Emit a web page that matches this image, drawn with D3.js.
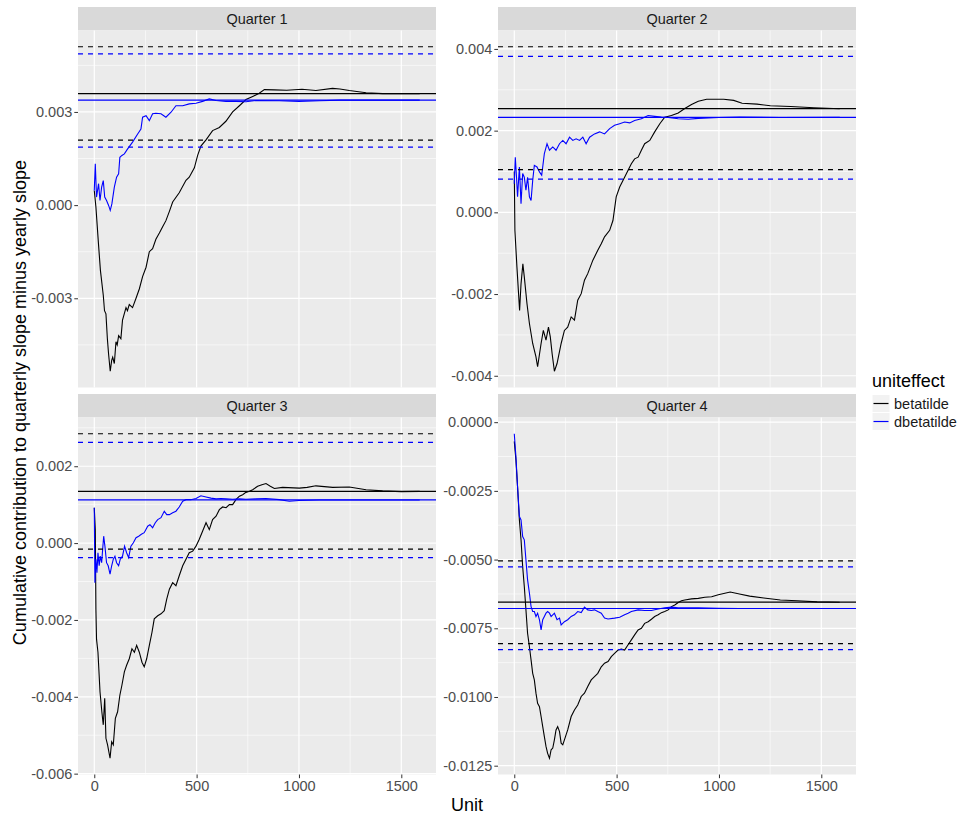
<!DOCTYPE html>
<html>
<head>
<meta charset="utf-8">
<script src="https://d3js.org/d3.v7.min.js"></script>
<style>
  body { margin: 0; background: #fff; }
  svg text { font-family: 'Liberation Sans', Arial, sans-serif; }
</style>
</head>
<body>
<svg id="quarterVis"></svg>
<script>
const quarters = ['Quarter 1', 'Quarter 2', 'Quarter 3', 'Quarter 4']
const seriesNames = ['betatilde', 'dbetatilde']

// [unit, cumulative contribution]
const q1Beta = [[0,0.00047],[8,-0.00006],[20,-0.0012],[30,-0.0021],[44,-0.0029],[50,-0.0034],[57,-0.0035],[64,-0.0043],[70,-0.0048],[78,-0.00535],[85,-0.0050],[90,-0.0049],[98,-0.0051],[106,-0.0044],[112,-0.0045],[119,-0.0042],[130,-0.0043],[138,-0.0037],[155,-0.0033],[162,-0.0034],[171,-0.0032],[187,-0.0033],[204,-0.0030],[220,-0.0027],[236,-0.0023],[253,-0.0020],[269,-0.0015],[285,-0.0014],[301,-0.0011],[318,-0.0009],[334,-0.0007],[350,-0.0005],[367,-0.0002],[383,0.0001],[415,0.0004],[448,0.0008],[464,0.0009],[489,0.0012],[505,0.0016],[521,0.0019],[546,0.0021],[578,0.0024],[611,0.0025],[643,0.0027],[676,0.0030],[709,0.0032],[741,0.0034],[774,0.0035],[806,0.0036],[831,0.00372],[880,0.00371],[940,0.00370],[1015,0.00373],[1083,0.00369],[1164,0.00376],[1200,0.00374],[1246,0.00369],[1328,0.00362],[1409,0.00359],[1500,0.00359],[1590,0.00359]]
const q1Dbeta = [[0,0.00047],[5,0.00133],[11,0.00026],[21,0.00069],[28,0.00015],[36,0.00058],[44,0.00079],[51,0.00026],[60,0.00015],[70,-0.00001],[78,-0.00017],[86,0.00004],[98,0.00058],[109,0.0009],[119,0.00101],[125,0.00154],[135,0.0016],[147,0.00165],[163,0.00181],[187,0.00203],[212,0.00229],[228,0.00245],[236,0.00283],[253,0.00288],[269,0.00272],[285,0.00294],[301,0.00296],[326,0.00294],[350,0.00283],[375,0.00299],[399,0.0032],[432,0.0032],[464,0.00326],[497,0.00328],[529,0.00334],[562,0.00342],[595,0.00337],[643,0.00334],[692,0.00334],[741,0.00333],[790,0.00337],[904,0.00336],[1000,0.00334],[1100,0.00336],[1200,0.00338],[1400,0.00338],[1590,0.00338]]

const q2Beta = [[0,0.0010],[3,-0.00044],[13,-0.00134],[20,-0.00191],[26,-0.0024],[33,-0.00175],[42,-0.00126],[49,-0.00158],[62,-0.00223],[74,-0.00272],[90,-0.00321],[106,-0.00354],[114,-0.00378],[131,-0.00321],[142,-0.00289],[155,-0.00313],[167,-0.00281],[176,-0.00305],[185,-0.00346],[196,-0.00389],[209,-0.0037],[229,-0.00321],[245,-0.00289],[261,-0.00281],[278,-0.00256],[294,-0.00264],[310,-0.00215],[327,-0.00199],[343,-0.00166],[359,-0.0015],[384,-0.00117],[408,-0.00093],[425,-0.00077],[441,-0.0006],[466,-0.00044],[482,-0.0002],[498,0.00038],[515,0.00062],[539,0.00086],[556,0.00103],[572,0.00119],[588,0.00131],[605,0.00135],[621,0.00152],[637,0.00168],[662,0.00176],[686,0.00197],[711,0.00217],[735,0.00233],[768,0.00237],[801,0.00243],[833,0.00254],[866,0.00264],[899,0.00272],[940,0.00277],[1023,0.00277],[1072,0.00274],[1113,0.00267],[1186,0.00265],[1251,0.00261],[1350,0.00259],[1464,0.00256],[1590,0.002537]]
const q2Dbeta = [[0,0.0007],[5,0.00135],[11,0.00086],[16,0.00038],[25,0.00111],[33,0.00021],[41,0.00095],[49,0.00086],[57,0.00054],[65,0.00086],[74,0.00038],[82,0.00029],[90,0.00078],[98,0.00115],[111,0.00111],[123,0.00099],[134,0.00091],[147,0.00144],[160,0.00168],[172,0.00152],[188,0.0016],[204,0.00152],[221,0.00168],[237,0.00176],[253,0.00168],[270,0.00184],[286,0.00176],[302,0.0018],[319,0.00176],[335,0.00184],[351,0.00168],[368,0.00184],[392,0.00192],[417,0.00197],[441,0.00192],[466,0.00205],[490,0.00213],[515,0.00217],[539,0.00221],[564,0.00219],[588,0.00225],[621,0.00229],[654,0.00237],[686,0.00235],[719,0.00233],[752,0.00232],[801,0.00229],[850,0.00228],[899,0.0023],[1000,0.00232],[1100,0.00233],[1300,0.00232],[1590,0.002324]]

const q3Beta = [[0,0.00092],[5,0.00035],[8,-0.00172],[11,-0.0025],[18,-0.00284],[28,-0.00387],[37,-0.00439],[44,-0.00473],[51,-0.00404],[57,-0.00508],[65,-0.00525],[77,-0.0056],[85,-0.00517],[93,-0.00525],[103,-0.00456],[114,-0.00439],[125,-0.00396],[135,-0.0037],[147,-0.00335],[158,-0.00318],[171,-0.00301],[184,-0.00275],[196,-0.00284],[207,-0.00266],[220,-0.00284],[233,-0.0031],[244,-0.00322],[256,-0.00301],[269,-0.00266],[282,-0.00232],[293,-0.00197],[310,-0.00189],[326,-0.00184],[342,-0.00176],[354,-0.00146],[367,-0.0012],[383,-0.00103],[399,-0.00111],[415,-0.00085],[432,-0.00059],[448,-0.00042],[464,-0.00025],[481,-0.00021],[497,-0.00008],[513,0.0001],[529,0.00031],[546,0.00053],[562,0.00035],[578,0.00061],[595,0.0007],[611,0.00087],[627,0.00094],[644,0.00092],[660,0.001],[676,0.001],[692,0.00113],[709,0.00122],[725,0.00126],[741,0.00132],[758,0.00135],[774,0.00139],[798,0.00148],[819,0.00152],[839,0.00155],[860,0.00148],[880,0.00142],[920,0.00145],[1002,0.00143],[1040,0.00145],[1083,0.00149],[1165,0.00145],[1246,0.00146],[1328,0.00139],[1409,0.00136],[1500,0.00134],[1590,0.001345]]
const q3Dbeta = [[0,0.00092],[3,-0.00103],[8,-0.00042],[13,-0.00077],[18,-0.00025],[24,-0.00059],[29,-0.00034],[36,-0.00051],[41,-0.00016],[46,0.00018],[52,-0.00008],[60,-0.00051],[68,-0.00059],[77,-0.00081],[85,-0.00059],[93,-0.00042],[101,-0.00034],[109,-0.00051],[119,-0.00059],[127,-0.00042],[138,-0.00034],[148,-0.00008],[158,-0.00025],[168,-0.00038],[179,-0.00008],[191,0.00001],[204,0.00014],[217,0.00018],[230,0.00023],[244,0.00027],[261,0.00044],[272,0.00048],[285,0.0004],[298,0.00053],[310,0.00061],[326,0.00066],[342,0.00083],[354,0.00074],[367,0.00074],[383,0.00079],[399,0.00083],[415,0.00094],[432,0.00109],[448,0.00113],[472,0.00113],[497,0.00116],[521,0.00123],[546,0.0012],[570,0.00117],[595,0.00115],[619,0.00116],[644,0.00115],[676,0.00114],[709,0.00115],[741,0.00114],[790,0.00115],[839,0.00116],[904,0.00113],[953,0.00109],[1000,0.00111],[1100,0.00112],[1300,0.00112],[1590,0.001123]]

const q4Beta = [[0,-0.0007],[8,-0.00137],[16,-0.00234],[25,-0.00356],[33,-0.00428],[41,-0.00525],[49,-0.00598],[57,-0.00683],[65,-0.00768],[74,-0.00817],[82,-0.00865],[90,-0.00914],[98,-0.00938],[106,-0.00986],[114,-0.01023],[123,-0.01035],[131,-0.01071],[139,-0.01108],[147,-0.01144],[155,-0.0118],[163,-0.01205],[172,-0.01223],[180,-0.01192],[188,-0.01186],[196,-0.01156],[204,-0.0112],[212,-0.01108],[221,-0.01126],[229,-0.01168],[237,-0.01174],[245,-0.01156],[253,-0.01138],[261,-0.0112],[278,-0.01071],[294,-0.01047],[310,-0.01029],[327,-0.00998],[343,-0.00986],[359,-0.00962],[376,-0.00938],[392,-0.00926],[408,-0.00914],[425,-0.0089],[441,-0.00877],[458,-0.00871],[474,-0.00853],[490,-0.00841],[507,-0.00829],[523,-0.00826],[539,-0.00829],[556,-0.0081],[572,-0.00792],[588,-0.00774],[605,-0.00756],[621,-0.0075],[637,-0.00732],[654,-0.00726],[670,-0.00717],[686,-0.00707],[703,-0.00701],[719,-0.00693],[735,-0.00689],[752,-0.00683],[768,-0.00671],[784,-0.00665],[801,-0.00656],[817,-0.0065],[833,-0.00647],[866,-0.00643],[899,-0.00641],[931,-0.00637],[964,-0.00635],[997,-0.00628],[1055,-0.00618],[1100,-0.00625],[1150,-0.00633],[1219,-0.0064],[1300,-0.00647],[1382,-0.0065],[1480,-0.00654],[1590,-0.00655]]
const q4Dbeta = [[0,-0.00042],[8,-0.00125],[16,-0.00234],[25,-0.00343],[33,-0.00356],[41,-0.00416],[49,-0.00428],[57,-0.00501],[65,-0.00574],[74,-0.00622],[82,-0.00671],[90,-0.00689],[98,-0.00689],[106,-0.00707],[114,-0.00695],[123,-0.00719],[131,-0.00756],[139,-0.00719],[147,-0.00707],[155,-0.00695],[163,-0.00689],[172,-0.00695],[180,-0.00707],[188,-0.00701],[196,-0.00695],[209,-0.00719],[221,-0.00713],[229,-0.00738],[245,-0.00726],[261,-0.00719],[278,-0.00707],[294,-0.00701],[310,-0.00689],[327,-0.00693],[343,-0.00673],[359,-0.00683],[376,-0.00685],[392,-0.00683],[408,-0.00689],[425,-0.00695],[441,-0.00713],[458,-0.00716],[490,-0.00713],[515,-0.0071],[539,-0.00701],[556,-0.00695],[572,-0.00689],[605,-0.00683],[637,-0.00685],[670,-0.00685],[703,-0.0068],[735,-0.00675],[768,-0.00673],[801,-0.00675],[850,-0.00675],[899,-0.00675],[997,-0.00677],[1100,-0.00678],[1300,-0.00678],[1590,-0.00678]]

// reference lines per quarter
const betaMean = [0.00359, 0.002537, 0.001345, -0.00655]
const betaLower = [0.00209, 0.001045, -0.000155, -0.008057]
const betaUpper = [0.0051, 0.004054, 0.002846, -0.005047]
const dbetaMean = [0.00338, 0.002324, 0.001123, -0.00678]
const dbetaLower = [0.00187, 0.000815, -0.000378, -0.008275]
const dbetaUpper = [0.00487, 0.003817, 0.002623, -0.005266]

const xTicks = [0, 500, 1000, 1500]
const yTicks = [
  [-0.003, 0, 0.003],
  [-0.004, -0.002, 0, 0.002, 0.004],
  [-0.006, -0.004, -0.002, 0, 0.002],
  [-0.0125, -0.01, -0.0075, -0.005, -0.0025, 0]
]
const yTickDigits = [3, 3, 3, 4]

function quarterVis () {
  const width = 968
  const height = 818
  const panelW = 358
  const panelH = 357
  const stripH = 23.5
  const colX = [78, 498]
  const rowY = [7, 394]
  const colors = { betatilde: 'black', dbetatilde: 'blue' }

  const svg = d3.select('#quarterVis')
    .attr('width', width)
    .attr('height', height)

  svg.append('rect').attr('width', width).attr('height', height).attr('fill', '#fff')

  const locale = d3.formatLocale({ decimal: '.', thousands: ',', grouping: [3], currency: ['', ''], minus: '-' })

  const betaSeries = [q1Beta, q2Beta, q3Beta, q4Beta]
  const dbetaSeries = [q1Dbeta, q2Dbeta, q3Dbeta, q4Dbeta]

  const allUnits = betaSeries.concat(dbetaSeries).flat().map(d => d[0])
  const [xMin, xMax] = d3.extent(allUnits)
  const xPad = (xMax - xMin) * 0.05
  const x = d3.scaleLinear().domain([xMin - xPad, xMax + xPad]).range([0, panelW])

  function minorBreaks (major, domain) {
    const step = major[1] - major[0]
    const out = []
    for (let i = -1; i < major.length; i++) {
      const v = major[0] + (i + 0.5) * step
      if (v >= Math.min(...domain) && v <= Math.max(...domain)) out.push(v)
    }
    return out
  }

  quarters.forEach((name, i) => {
    const col = i % 2
    const row = Math.floor(i / 2)
    const left = colX[col]
    const top = rowY[row] + stripH

    const hlines = [
      { value: betaUpper[i], color: colors.betatilde, dash: '5,5' },
      { value: betaMean[i], color: colors.betatilde, dash: null },
      { value: betaLower[i], color: colors.betatilde, dash: '5,5' },
      { value: dbetaUpper[i], color: colors.dbetatilde, dash: '5,5' },
      { value: dbetaMean[i], color: colors.dbetatilde, dash: null },
      { value: dbetaLower[i], color: colors.dbetatilde, dash: '5,5' }
    ]

    const vals = betaSeries[i].concat(dbetaSeries[i]).map(d => d[1])
      .concat(hlines.map(h => h.value))
    const [lo, hi] = d3.extent(vals)
    const pad = (hi - lo) * 0.05
    const y = d3.scaleLinear().domain([lo - pad, hi + pad]).range([panelH, 0])

    // strip
    svg.append('rect')
      .attr('x', left).attr('y', rowY[row])
      .attr('width', panelW).attr('height', stripH)
      .attr('fill', '#d9d9d9')
    svg.append('text')
      .attr('x', left + panelW / 2).attr('y', rowY[row] + stripH / 2)
      .attr('dy', '0.35em')
      .attr('text-anchor', 'middle')
      .attr('font-size', 14.5)
      .attr('fill', '#1a1a1a')
      .text(name)

    const g = svg.append('g').attr('transform', `translate(${left},${top})`)

    g.append('rect').attr('width', panelW).attr('height', panelH).attr('fill', '#ebebeb')

    // grid
    g.selectAll('.ymin').data(minorBreaks(yTicks[i], y.domain()))
      .enter().append('line')
      .attr('x1', 0).attr('x2', panelW)
      .attr('y1', d => y(d)).attr('y2', d => y(d))
      .attr('stroke', '#fff').attr('stroke-width', 0.6)
    g.selectAll('.xmin').data(minorBreaks(xTicks, x.domain()))
      .enter().append('line')
      .attr('y1', 0).attr('y2', panelH)
      .attr('x1', d => x(d)).attr('x2', d => x(d))
      .attr('stroke', '#fff').attr('stroke-width', 0.6)
    g.selectAll('.ymaj').data(yTicks[i])
      .enter().append('line')
      .attr('x1', 0).attr('x2', panelW)
      .attr('y1', d => y(d)).attr('y2', d => y(d))
      .attr('stroke', '#fff').attr('stroke-width', 1.2)
    g.selectAll('.xmaj').data(xTicks)
      .enter().append('line')
      .attr('y1', 0).attr('y2', panelH)
      .attr('x1', d => x(d)).attr('x2', d => x(d))
      .attr('stroke', '#fff').attr('stroke-width', 1.2)

    const line = d3.line().x(d => x(d[0])).y(d => y(d[1]))

    g.append('path').datum(betaSeries[i])
      .attr('d', line).attr('fill', 'none')
      .attr('stroke', colors.betatilde).attr('stroke-width', 1.1)
    g.append('path').datum(dbetaSeries[i])
      .attr('d', line).attr('fill', 'none')
      .attr('stroke', colors.dbetatilde).attr('stroke-width', 1.1)

    g.selectAll('.hline').data(hlines)
      .enter().append('line')
      .attr('x1', 0).attr('x2', panelW)
      .attr('y1', d => y(d.value)).attr('y2', d => y(d.value))
      .attr('stroke', d => d.color)
      .attr('stroke-width', 1.2)
      .attr('stroke-dasharray', d => d.dash)

    // y axis
    const yAxis = g.append('g')
      .call(d3.axisLeft(y).tickValues(yTicks[i])
        .tickFormat(locale.format(`.${yTickDigits[i]}f`))
        .tickSize(3.7).tickPadding(2))
    yAxis.select('.domain').remove()
    yAxis.selectAll('line').attr('stroke', '#333')
    yAxis.selectAll('text').attr('font-size', 14.5).attr('fill', '#4d4d4d')
      .attr('font-family', "'Liberation Sans', Arial, sans-serif")

    if (row === 1) {
      const xAxis = g.append('g')
        .attr('transform', `translate(0,${panelH})`)
        .call(d3.axisBottom(x).tickValues(xTicks).tickFormat(d3.format('d'))
          .tickSize(3.7).tickPadding(3))
      xAxis.select('.domain').remove()
      xAxis.selectAll('line').attr('stroke', '#333')
      xAxis.selectAll('text').attr('font-size', 14.5).attr('fill', '#4d4d4d')
        .attr('font-family', "'Liberation Sans', Arial, sans-serif")
    }
  })

  // axis titles
  svg.append('text')
    .attr('x', (colX[0] + colX[1] + panelW) / 2).attr('y', 811)
    .attr('text-anchor', 'middle')
    .attr('font-size', 18)
    .attr('fill', 'black')
    .text('Unit')

  svg.append('text')
    .attr('transform', `translate(26,${(rowY[0] + stripH + rowY[1] + stripH + panelH) / 2}) rotate(-90)`)
    .attr('text-anchor', 'middle')
    .attr('font-size', 18)
    .attr('fill', 'black')
    .text('Cumulative contribution to quarterly slope minus yearly slope')

  // legend
  const legend = svg.append('g').attr('transform', 'translate(872,387)')
  legend.append('text')
    .attr('x', 0).attr('y', 0)
    .attr('font-size', 18)
    .attr('fill', 'black')
    .text('uniteffect')

  const keys = legend.selectAll('.key').data(seriesNames)
    .enter().append('g')
    .attr('transform', (d, k) => `translate(0,${7.5 + k * 18})`)
  keys.append('rect')
    .attr('width', 18).attr('height', 18)
    .attr('fill', '#f2f2f2').attr('stroke', '#fff')
  keys.append('line')
    .attr('x1', 1.5).attr('x2', 16.5).attr('y1', 9).attr('y2', 9)
    .attr('stroke', d => colors[d]).attr('stroke-width', 1.2)
  keys.append('text')
    .attr('x', 22).attr('y', 9).attr('dy', '0.35em')
    .attr('font-size', 14.5)
    .attr('fill', '#1a1a1a')
    .text(d => d)
}

quarterVis()
</script>
</body>
</html>
